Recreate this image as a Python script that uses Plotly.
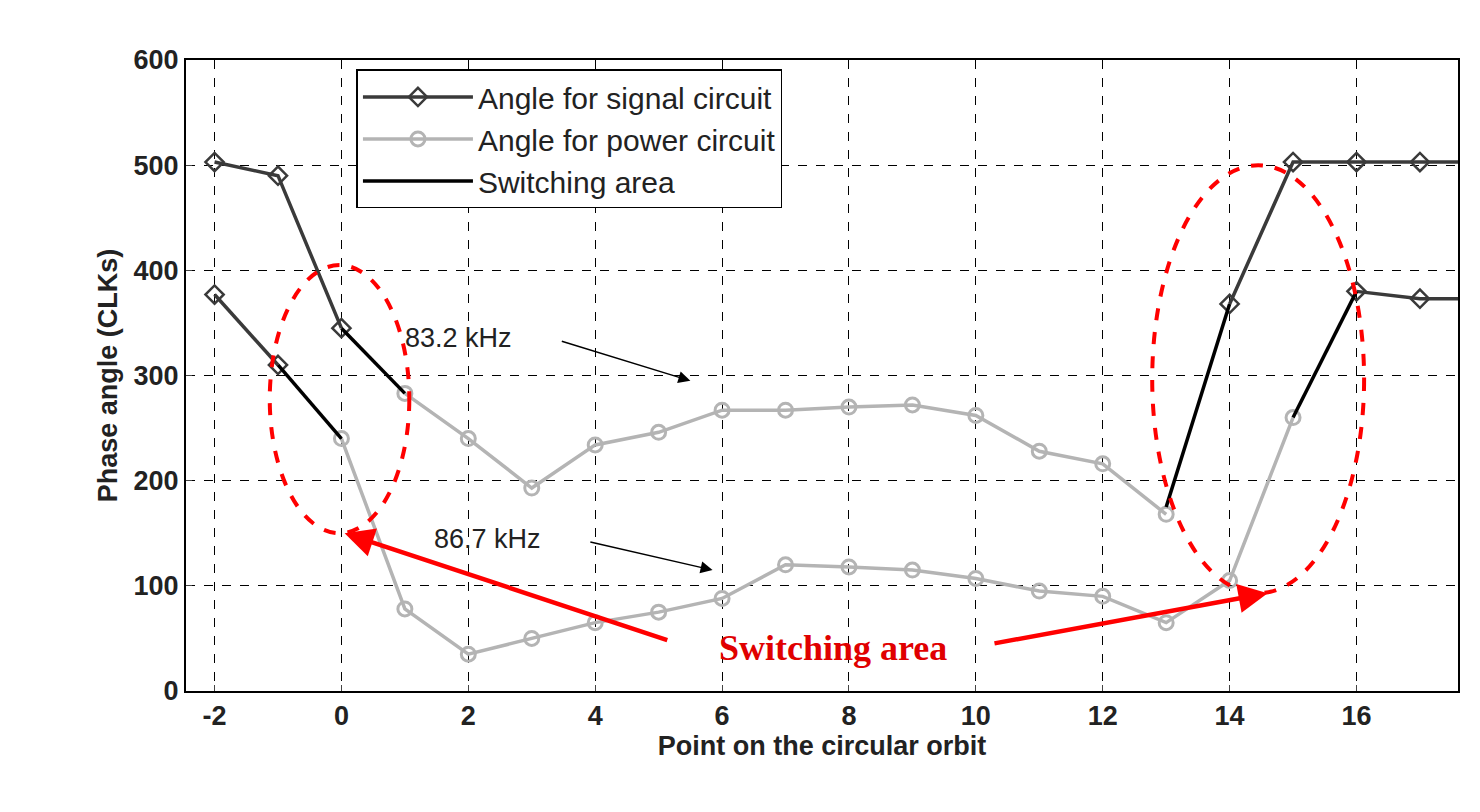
import plotly.graph_objects as go

# Data
sig_hi_x = [-2, -1, 0]; sig_hi_y = [503, 490, 345]
sig_hi2_x = [14, 15, 16, 17, 17.6]; sig_hi2_y = [368, 503, 503, 503, 503]
sig_lo_x = [-2, -1]; sig_lo_y = [377, 310]
sig_lo2_x = [16, 17, 17.6]; sig_lo2_y = [380, 373, 373]
pow_hi_x = list(range(1, 14)); pow_hi_y = [283, 240, 193, 234, 246, 267, 267, 270, 272, 262, 228, 216, 168]
pow_lo_x = list(range(0, 16)); pow_lo_y = [240, 78, 35, 50, 65, 75, 88, 120, 118, 115, 107, 95, 90, 65, 105, 260]
sw_x = [[0, 1], [-1, 0], [13, 14], [15, 16]]
sw_y = [[345, 283], [310, 240], [175, 368], [260, 380]]

SIG = "#3a3a3a"; POW = "#b4b4b4"
fig = go.Figure()
dia = dict(symbol="diamond-open", size=14, color=SIG, line=dict(width=2.5))
circ = dict(symbol="circle-open", size=14, color=POW, line=dict(width=3))
fig.add_trace(go.Scatter(x=sig_hi_x, y=sig_hi_y, mode="lines+markers", line=dict(color=SIG, width=3.5), marker=dia, name="Angle for signal circuit"))
fig.add_trace(go.Scatter(x=sig_hi2_x[:-1], y=sig_hi2_y[:-1], mode="markers", marker=dia, showlegend=False))
fig.add_trace(go.Scatter(x=sig_hi2_x, y=sig_hi2_y, mode="lines", line=dict(color=SIG, width=3.5), showlegend=False))
fig.add_trace(go.Scatter(x=sig_lo_x, y=sig_lo_y, mode="lines+markers", line=dict(color=SIG, width=3.5), marker=dia, showlegend=False))
fig.add_trace(go.Scatter(x=sig_lo2_x[:-1], y=sig_lo2_y[:-1], mode="markers", marker=dia, showlegend=False))
fig.add_trace(go.Scatter(x=sig_lo2_x, y=sig_lo2_y, mode="lines", line=dict(color=SIG, width=3.5), showlegend=False))
fig.add_trace(go.Scatter(x=pow_hi_x, y=pow_hi_y, mode="lines+markers", line=dict(color=POW, width=3.5), marker=circ, name="Angle for power circuit"))
fig.add_trace(go.Scatter(x=pow_lo_x, y=pow_lo_y, mode="lines+markers", line=dict(color=POW, width=3.5), marker=circ, showlegend=False))
for i, (xs, ys) in enumerate(zip(sw_x, sw_y)):
    fig.add_trace(go.Scatter(x=xs, y=ys, mode="lines", line=dict(color="black", width=3.5), name="Switching area", showlegend=(i == 0)))

# ellipses
fig.add_shape(type="circle", x0=-1.13, x1=1.07, y0=150, y1=405, line=dict(color="red", width=4, dash="dash"))
fig.add_shape(type="circle", x0=12.78, x1=16.12, y0=93, y1=500, line=dict(color="red", width=4, dash="dash"))

# red arrows
for hx, hy, tx, ty in [(0.05, 150, 5.16, 48), (14.6, 93, 10.27, 45)]:
    fig.add_annotation(x=hx, y=hy, ax=tx, ay=ty, xref="x", yref="y", axref="x", ayref="y", text="",
                       showarrow=True, arrowhead=2, arrowsize=1.3, arrowwidth=4.5, arrowcolor="red")
fig.add_annotation(x=7.75, y=41, text="<b>Switching area</b>", showarrow=False,
                   font=dict(family="Liberation Serif", size=36, color="#e00000"))
# kHz labels
for lx, ly, hx, hy, t in [(1.85, 336, 5.5, 295, "83.2 kHz"), (2.3, 145, 5.85, 115, "86.7 kHz")]:
    fig.add_annotation(x=lx, y=ly, text=t, showarrow=False, font=dict(family="Arial", size=27, color="#222"))
    fig.add_annotation(x=hx, y=hy, ax=lx + 1.6, ay=ly - 3, xref="x", yref="y", axref="x", ayref="y", text="",
                       showarrow=True, arrowhead=2, arrowsize=1.6, arrowwidth=1.5, arrowcolor="black")

tf = dict(family="Liberation Sans", size=27, color="#222", weight="bold")
ax = dict(showgrid=True, gridcolor="black", griddash="dash", gridwidth=1, showline=True, linecolor="black",
          linewidth=2, mirror=True, ticks="inside", ticklen=6, zeroline=False, tickfont=tf)
fig.update_xaxes(ax, range=[-2.45, 17.6], tickvals=list(range(-2, 17, 2)),
                 ticktext=["-2"] + [str(v) for v in range(0, 17, 2)],
                 title=dict(text="Point on the circular orbit", font=tf, standoff=6))
fig.update_yaxes(ax, range=[0, 600], dtick=100,
                 title=dict(text="Phase angle (CLKs)", font=tf, standoff=8))
fig.update_layout(width=1480, height=812, plot_bgcolor="white", paper_bgcolor="white",
                  margin=dict(l=178, r=30, t=52, b=129),
                  legend=dict(x=0.134, y=0.985, xanchor="left", yanchor="top", bgcolor="white",
                              bordercolor="black", borderwidth=1.5, tracegroupgap=0,
                              font=dict(family="Arial", size=30, color="#222"), itemwidth=110))
fig.write_html("out.html")
